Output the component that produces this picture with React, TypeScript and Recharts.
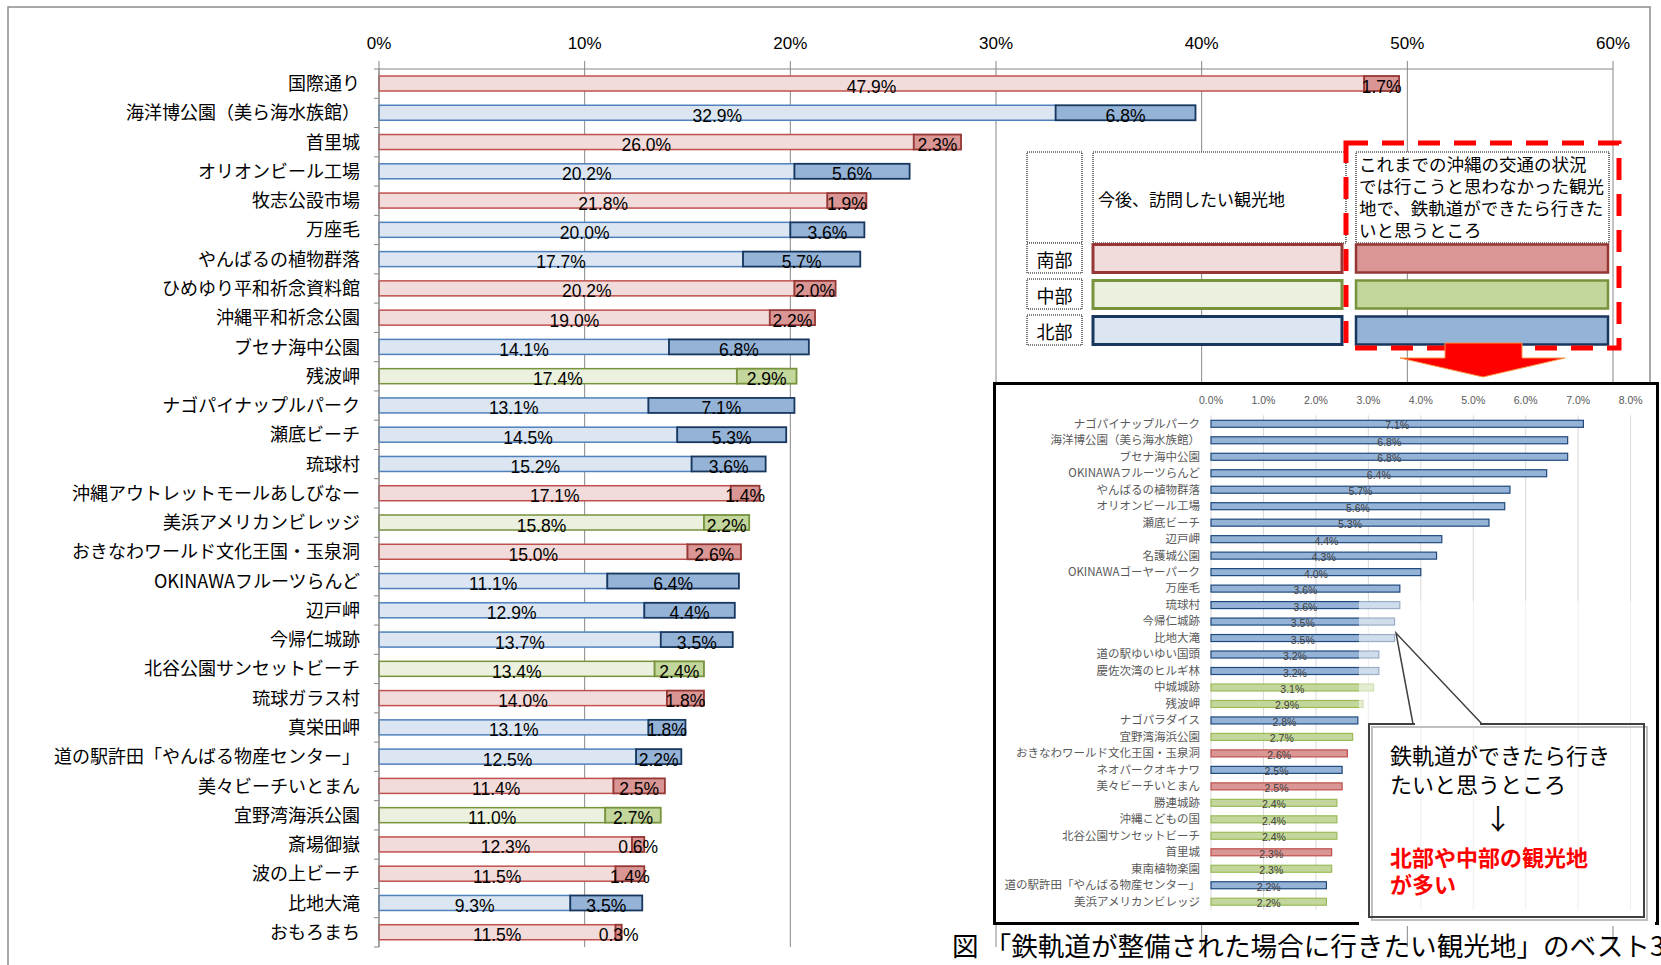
import React from "react";
import { BarChart, Bar, XAxis, YAxis, CartesianGrid } from "recharts";

// main chart: top 30 places
const places = [
  "国際通り",
  "海洋博公園（美ら海水族館）",
  "首里城",
  "オリオンビール工場",
  "牧志公設市場",
  "万座毛",
  "やんばるの植物群落",
  "ひめゆり平和祈念資料館",
  "沖縄平和祈念公園",
  "ブセナ海中公園",
  "残波岬",
  "ナゴパイナップルパーク",
  "瀬底ビーチ",
  "琉球村",
  "沖縄アウトレットモールあしびなー",
  "美浜アメリカンビレッジ",
  "おきなわワールド文化王国・玉泉洞",
  "OKINAWAフルーツらんど",
  "辺戸岬",
  "今帰仁城跡",
  "北谷公園サンセットビーチ",
  "琉球ガラス村",
  "真栄田岬",
  "道の駅許田「やんばる物産センター」",
  "美々ビーチいとまん",
  "宜野湾海浜公園",
  "斎場御嶽",
  "波の上ビーチ",
  "比地大滝",
  "おもろまち",
];
const visitPct = [
  47.9, 32.9, 26.0, 20.2, 21.8, 20.0, 17.7, 20.2, 19.0, 14.1, 17.4, 13.1, 14.5,
  15.2, 17.1, 15.8, 15.0, 11.1, 12.9, 13.7, 13.4, 14.0, 13.1, 12.5, 11.4, 11.0,
  12.3, 11.5, 9.3, 11.5,
];
const railPct = [
  1.7, 6.8, 2.3, 5.6, 1.9, 3.6, 5.7, 2.0, 2.2, 6.8, 2.9, 7.1, 5.3, 3.6, 1.4, 2.2,
  2.6, 6.4, 4.4, 3.5, 2.4, 1.8, 1.8, 2.2, 2.5, 2.7, 0.6, 1.4, 3.5, 0.3,
];
// S = 南部, C = 中部, N = 北部
const placeRegion = [
  "S", "N", "S", "N", "S", "N", "N", "S", "S", "N", "C", "N", "N", "N", "S",
  "C", "S", "N", "N", "N", "C", "S", "N", "N", "S", "C", "S", "S", "N", "S",
];
const mainTicks = [0, 10, 20, 30, 40, 50, 60];

// inset: rail-only ranking
const insetPlaces = [
  "ナゴパイナップルパーク",
  "海洋博公園（美ら海水族館）",
  "ブセナ海中公園",
  "OKINAWAフルーツらんど",
  "やんばるの植物群落",
  "オリオンビール工場",
  "瀬底ビーチ",
  "辺戸岬",
  "名護城公園",
  "OKINAWAゴーヤーパーク",
  "万座毛",
  "琉球村",
  "今帰仁城跡",
  "比地大滝",
  "道の駅ゆいゆい国頭",
  "慶佐次湾のヒルギ林",
  "中城城跡",
  "残波岬",
  "ナゴパラダイス",
  "宜野湾海浜公園",
  "おきなわワールド文化王国・玉泉洞",
  "ネオパークオキナワ",
  "美々ビーチいとまん",
  "勝連城跡",
  "沖縄こどもの国",
  "北谷公園サンセットビーチ",
  "首里城",
  "東南植物楽園",
  "道の駅許田「やんばる物産センター」",
  "美浜アメリカンビレッジ",
];
const insetPct = [
  7.1, 6.8, 6.8, 6.4, 5.7, 5.6, 5.3, 4.4, 4.3, 4.0, 3.6, 3.6, 3.5, 3.5, 3.2,
  3.2, 3.1, 2.9, 2.8, 2.7, 2.6, 2.5, 2.5, 2.4, 2.4, 2.4, 2.3, 2.3, 2.2, 2.2,
];
const insetRegion = [
  "N", "N", "N", "N", "N", "N", "N", "N", "N", "N", "N", "N", "N", "N", "N",
  "N", "C", "C", "N", "C", "S", "N", "S", "C", "C", "C", "S", "C", "N", "C",
];
const insetTicks = [0, 1, 2, 3, 4, 5, 6, 7, 8];

const legendRegions = ["南部", "中部", "北部"];
const legendHeader = [
  "これまでの沖縄の交通の状況",
  "では行こうと思わなかった観光",
  "地で、鉄軌道ができたら行きた",
  "いと思うところ",
];

const LIGHT: Record<string, { fill: string; stroke: string }> = {
  S: { fill: "#F2DCDB", stroke: "#C0504D" },
  C: { fill: "#EBF1DE", stroke: "#77933C" },
  N: { fill: "#DCE6F2", stroke: "#4F81BD" },
};
const DARK: Record<string, { fill: string; stroke: string }> = {
  S: { fill: "#D99694", stroke: "#953735" },
  C: { fill: "#C3D69B", stroke: "#77933C" },
  N: { fill: "#95B3D7", stroke: "#17375E" },
};
const INSET: Record<string, { fill: string; stroke: string }> = {
  S: { fill: "#D99694", stroke: "#C0504D" },
  C: { fill: "#C3D69B", stroke: "#9BBB59" },
  N: { fill: "#95B3D7", stroke: "#1F497D" },
};

const JP = "'Noto Sans CJK JP', 'Noto Sans', sans-serif";
const NUM = "'Liberation Sans', Arial, sans-serif";
const GRID = "#868686";

const mainData = places.map((name, i) => ({
  name,
  visit: visitPct[i],
  rail: railPct[i],
  region: placeRegion[i],
}));
const insetData = insetPlaces.map((name, i) => ({
  name,
  pct: insetPct[i],
  region: insetRegion[i],
}));

const MAIN_PLOT_H = 878;

const mainShape = (part: "visit" | "rail") => (p: any) => {
  const { x, y, width, height, payload } = p;
  const c = (part === "visit" ? LIGHT : DARK)[payload.region];
  return (
    <g>
      <rect
        x={x}
        y={y}
        width={width}
        height={height}
        fill={c.fill}
        stroke={c.stroke}
        strokeWidth={part === "visit" ? 1.5 : 1.8}
      />
      <text
        x={x + width / 2}
        y={y + height + 1.5}
        textAnchor="middle"
        fontSize={17.5}
        fontFamily={NUM}
        fill="#000"
      >
        {payload[part].toFixed(1)}%
      </text>
    </g>
  );
};

const insetShape = (p: any) => {
  const { x, y, width, height, payload } = p;
  const c = INSET[payload.region];
  return (
    <g>
      <rect x={x} y={y} width={width} height={height} fill={c.fill} stroke={c.stroke} strokeWidth={1.2} />
      <text
        x={x + width / 2}
        y={y + height + 2}
        textAnchor="middle"
        fontSize={10.5}
        fontFamily={NUM}
        fill="#404040"
      >
        {payload.pct.toFixed(1)}%
      </text>
    </g>
  );
};

const MainTick = (p: any) => {
  const { x, y, payload, index } = p;
  const half = MAIN_PLOT_H / places.length / 2;
  return (
    <g>
      <line x1={x - 5} x2={x} y1={y - half} y2={y - half} stroke={GRID} />
      {index === places.length - 1 && (
        <line x1={x - 5} x2={x} y1={y + half} y2={y + half} stroke={GRID} />
      )}
      <text x={x - 19} y={y} dy="0.36em" textAnchor="end" fontSize={18} fontFamily={JP} fill="#000">
        {payload.value}
      </text>
    </g>
  );
};

const InsetTick = (p: any) => {
  const { x, y, payload } = p;
  return (
    <text x={x - 11} y={y} dy="0.36em" textAnchor="end" fontSize={11.5} fontFamily={JP} fill="#595959">
      {payload.value}
    </text>
  );
};

const cellStyle = { fill: "#fff", stroke: "#555", strokeWidth: 1.6, strokeDasharray: "1 1" };

const App: React.FC = () => {
  return (
    <div
      style={{
        position: "absolute",
        left: 0,
        top: 0,
        width: 1661,
        height: 965,
        overflow: "hidden",
        background: "#fff",
      }}
    >
      <div style={{ position: "absolute", left: 0, top: 0 }}>
        <BarChart
          width={1661}
          height={965}
          layout="vertical"
          data={mainData}
          barSize={15}
          margin={{ top: 39, right: 48, bottom: 18, left: 0 }}
        >
          <CartesianGrid horizontal={false} stroke={GRID} />
          <XAxis
            type="number"
            orientation="top"
            domain={[0, 60]}
            ticks={mainTicks}
            interval={0}
            height={30}
            tickSize={8}
            tickMargin={12}
            tickFormatter={(v: number) => `${v}%`}
            axisLine={{ stroke: GRID }}
            tickLine={{ stroke: GRID }}
            tick={{ fontSize: 17, fill: "#000", fontFamily: NUM }}
          />
          <YAxis
            type="category"
            dataKey="name"
            width={379}
            interval={0}
            tickSize={0}
            tickMargin={0}
            tickLine={false}
            axisLine={{ stroke: GRID }}
            tick={MainTick}
          />
          <Bar dataKey="visit" stackId="a" shape={mainShape("visit")} isAnimationActive={false} />
          <Bar dataKey="rail" stackId="a" shape={mainShape("rail")} isAnimationActive={false} />
        </BarChart>
      </div>

      {/* frame, legend table, dashed box, arrow */}
      <svg width={1661} height={965} style={{ position: "absolute", left: 0, top: 0 }}>
        <path d="M8,970 V7 H1650 V400" fill="none" stroke="#8C8C8C" strokeWidth={1.5} />

        <rect x={1027} y={152} width={55} height={91} {...cellStyle} />
        <rect x={1093} y={152} width={253} height={91} {...cellStyle} />
        <rect x={1356} y={152} width={253} height={91} {...cellStyle} />
        <text x={1098} y={206} fontSize={17} fontFamily={JP}>今後、訪問したい観光地</text>
        {legendHeader.map((t, i) => (
          <text key={t} x={1359} y={170.7 + i * 22.2} fontSize={17.5} fontFamily={JP}>
            {t}
          </text>
        ))}
        {legendRegions.map((r, i) => {
          const key = ["S", "C", "N"][i];
          const y = [244, 280, 316][i];
          return (
            <g key={r}>
              <rect x={1027} y={y - 1} width={55} height={30} {...cellStyle} />
              <text x={1054.5} y={y + 23} textAnchor="middle" fontSize={18} fontFamily={JP}>
                {r}
              </text>
              <rect
                x={1093}
                y={y + 0.5}
                width={249}
                height={28}
                fill={LIGHT[key].fill}
                stroke={DARK[key].stroke}
                strokeWidth={3}
              />
              <rect
                x={1356}
                y={y + 0.5}
                width={252}
                height={28}
                fill={DARK[key].fill}
                stroke={DARK[key].stroke}
                strokeWidth={2.5}
              />
            </g>
          );
        })}
        <rect
          x={1346}
          y={143}
          width={273}
          height={205}
          fill="none"
          stroke="#FF0000"
          strokeWidth={5}
          strokeDasharray="22 14"
        />
        <polygon
          points="1445,343 1522,343 1522,358 1565,358 1483,377 1400,358 1445,358"
          fill="#FF0000"
          stroke="#F79646"
          strokeWidth={1}
        />
      </svg>

      {/* inset box */}
      <div
        style={{
          position: "absolute",
          left: 993,
          top: 382,
          width: 666,
          height: 543,
          boxSizing: "border-box",
          border: "3px solid #000",
          background: "#fff",
        }}
      />
      <div style={{ position: "absolute", left: 993, top: 382 }}>
        <BarChart
          width={666}
          height={543}
          layout="vertical"
          data={insetData}
          barSize={7}
          margin={{ top: 13.3, right: 28.4, bottom: 15.3, left: 0 }}
        >
          <CartesianGrid horizontal={false} stroke="#D9D9D9" />
          <XAxis
            type="number"
            orientation="top"
            domain={[0, 8]}
            ticks={insetTicks}
            interval={0}
            height={20}
            tickSize={0}
            tickMargin={11}
            axisLine={false}
            tickLine={false}
            tickFormatter={(v: number) => `${v.toFixed(1)}%`}
            tick={{ fontSize: 10.5, fill: "#595959", fontFamily: NUM }}
          />
          <YAxis
            type="category"
            dataKey="name"
            width={218}
            interval={0}
            tickSize={0}
            tickMargin={0}
            tickLine={false}
            axisLine={false}
            tick={InsetTick}
          />
          <Bar dataKey="pct" shape={insetShape} isAnimationActive={false} />
        </BarChart>
      </div>

      {/* callout and caption */}
      <svg width={1661} height={965} style={{ position: "absolute", left: 0, top: 0 }}>
        <rect x={1359} y={601} width={296} height={318} fill="#fff" opacity={0.55} />
        <rect x={1359} y={918} width={296} height={8} fill="#fff" />
        <rect x={1372} y={727} width={275} height={193} fill="none" stroke="#BFBFBF" strokeWidth={2} />
        <rect x={1369} y={724} width={275} height={193} fill="none" stroke="#404040" strokeWidth={2} />
        <line x1={1415} x2={1480} y1={724} y2={724} stroke="#fff" strokeWidth={3} />
        <polyline points="1413,724 1396,633 1482,724" fill="none" stroke="#404040" strokeWidth={1.5} />
        <text x={1390} y={764} fontSize={22} fontFamily={JP} fill="#000">
          鉄軌道ができたら行き
        </text>
        <text x={1390} y={793} fontSize={22} fontFamily={JP} fill="#000">
          たいと思うところ
        </text>
        <text x={1498} y={830} textAnchor="middle" fontSize={28} fontFamily={JP} fill="#000">
          ↓
        </text>
        <text x={1390} y={866} fontSize={22} fontWeight="bold" fontFamily={JP} fill="#FF0000">
          北部や中部の観光地
        </text>
        <text x={1390} y={893} fontSize={22} fontWeight="bold" fontFamily={JP} fill="#FF0000">
          が多い
        </text>
        <text x={952} y={956} fontSize={26.6} fontFamily={JP} fill="#000">
          図 「鉄軌道が整備された場合に行きたい観光地」のベスト30
        </text>
      </svg>
    </div>
  );
};

export default App;
